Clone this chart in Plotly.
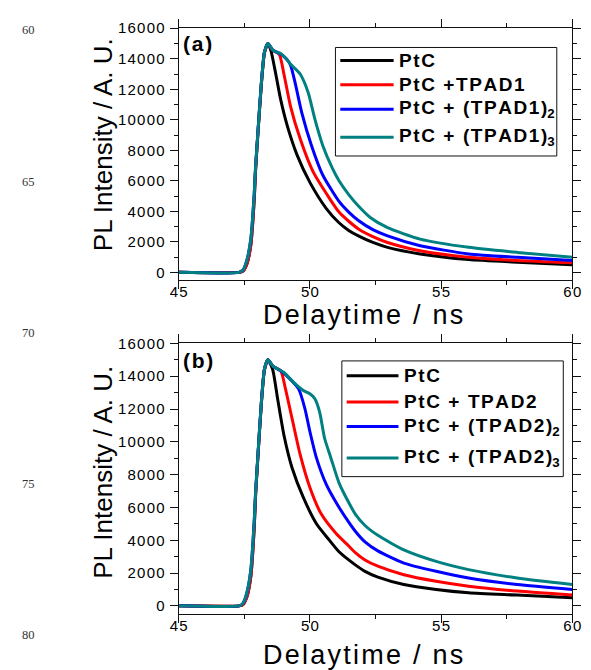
import plotly.graph_objects as go

W, H = 591, 670

# ---------------- data: panel (a) ----------------
a_black_x = [45, 47.3, 47.45, 47.6, 47.75, 47.88, 47.93, 48.02, 48.15, 48.27, 48.4, 48.52, 48.7, 48.89, 49.14, 49.51, 50.0, 50.62, 51.11, 51.48, 51.85, 52.4, 52.96, 54.2, 56.05, 57.9, 60]
a_black_y = [0, 0, 80, 550, 1800, 4800, 6700, 9100, 12300, 14400, 15000, 14500, 13000, 11300, 9600, 7700, 5900, 4200, 3250, 2750, 2390, 1960, 1640, 1210, 840, 670, 500]

a_red_x = [45, 47.3, 47.45, 47.6, 47.75, 47.88, 47.93, 48.02, 48.15, 48.27, 48.4, 48.55, 48.83, 49.01, 49.26, 49.63, 50.12, 50.74, 51.11, 51.48, 51.85, 52.4, 52.96, 54.2, 56.05, 57.9, 60]
a_red_y = [0, 0, 80, 550, 1800, 4800, 6700, 9100, 12300, 14400, 15000, 14600, 14300, 13000, 10900, 8750, 6600, 4870, 3950, 3350, 2850, 2350, 1960, 1420, 990, 780, 630]

a_blue_x = [45, 47.3, 47.45, 47.6, 47.75, 47.88, 47.93, 48.02, 48.15, 48.27, 48.4, 48.6, 48.9, 49.1, 49.26, 49.44, 49.69, 50.06, 50.49, 51.11, 51.48, 51.85, 52.4, 52.96, 54.2, 56.05, 57.9, 60]
a_blue_y = [0, 0, 150, 800, 2200, 5200, 6900, 9200, 12400, 14450, 15000, 14550, 14300, 14000, 13600, 12400, 10470, 8320, 6380, 4650, 3950, 3400, 2800, 2390, 1750, 1210, 990, 780]

a_teal_x = [45, 47.3, 47.45, 47.6, 47.75, 47.88, 47.93, 48.02, 48.15, 48.27, 48.4, 48.6, 48.9, 49.1, 49.26, 49.63, 49.94, 50.19, 50.49, 50.86, 51.11, 51.48, 51.85, 52.3, 52.96, 54.2, 56.05, 57.9, 60]
a_teal_y = [0, 0, 150, 800, 2200, 5200, 6900, 9200, 12400, 14450, 15000, 14550, 14330, 14000, 13650, 13000, 11760, 10040, 8320, 6810, 6000, 5100, 4350, 3600, 2930, 2180, 1640, 1310, 990]

# ---------------- data: panel (b) ----------------
b_black_x = [45, 47.3, 47.45, 47.6, 47.75, 47.88, 47.93, 48.02, 48.15, 48.27, 48.4, 48.58, 48.77, 49.01, 49.32, 49.75, 50.25, 50.74, 51.11, 51.48, 51.73, 52.1, 52.59, 53.58, 54.81, 56.05, 57.9, 60]
b_black_y = [0, 0, 80, 550, 1800, 4800, 6700, 9100, 12300, 14400, 15000, 14430, 12630, 10420, 8420, 6610, 5010, 4010, 3300, 2800, 2500, 2100, 1750, 1300, 1000, 800, 660, 500]

b_red_x = [45, 47.3, 47.45, 47.6, 47.75, 47.88, 47.93, 48.02, 48.15, 48.27, 48.4, 48.6, 48.89, 49.07, 49.32, 49.63, 50.0, 50.43, 51.0, 51.48, 51.73, 52.1, 52.59, 53.58, 54.81, 56.05, 57.9, 60]
b_red_y = [0, 0, 80, 550, 1800, 4800, 6700, 9100, 12300, 14400, 15000, 14600, 14330, 13230, 11430, 9220, 7220, 5610, 4410, 3650, 3250, 2800, 2420, 1900, 1500, 1200, 900, 660]

b_blue_x = [45, 47.3, 47.45, 47.6, 47.75, 47.88, 47.93, 48.02, 48.15, 48.27, 48.4, 48.6, 48.89, 49.2, 49.57, 49.81, 50.0, 50.25, 50.62, 51.0, 51.48, 51.73, 52.1, 52.59, 53.58, 54.81, 56.05, 57.9, 60]
b_blue_y = [0, 0, 150, 800, 2200, 5200, 6900, 9200, 12400, 14450, 15000, 14600, 14330, 13900, 13230, 12030, 10630, 9020, 7420, 6300, 5100, 4550, 3900, 3350, 2610, 2110, 1700, 1300, 1000]

b_teal_x = [45, 47.3, 47.45, 47.6, 47.75, 47.88, 47.93, 48.02, 48.15, 48.27, 48.4, 48.6, 49.01, 49.38, 49.75, 50.0, 50.19, 50.37, 50.56, 50.8, 51.11, 51.48, 51.73, 52.1, 52.59, 53.58, 54.81, 56.05, 57.9, 60]
b_teal_y = [0, 0, 150, 800, 2200, 5200, 6900, 9200, 12400, 14450, 15000, 14600, 14230, 13630, 13130, 12930, 12630, 11830, 10220, 9020, 7500, 6300, 5600, 4900, 4300, 3410, 2710, 2210, 1700, 1300]

colors = ["#000000", "#ff0000", "#0000ff", "#008080"]
names_a = ["PtC", "PtC +TPAD1", "PtC + (TPAD1)", "PtC + (TPAD1)"]
subs_a = ["", "", "2", "3"]
names_b = ["PtC", "PtC + TPAD2", "PtC + (TPAD2)", "PtC + (TPAD2)"]
subs_b = ["", "", "2", "3"]

x_ticks = [45, 50, 55, 60]
y_ticks = [0, 2000, 4000, 6000, 8000, 10000, 12000, 14000, 16000]
line_numbers = ["60", "65", "70", "75", "80"]

FONT = "Liberation Sans, Arial, sans-serif"
HS = "\u200a"


def spaced(s):
    return HS.join(list(s))


def px(x):
    return x / W


def py(y):
    return 1 - y / H


fig = go.Figure()

series_a = [(a_black_x, a_black_y), (a_red_x, a_red_y), (a_blue_x, a_blue_y), (a_teal_x, a_teal_y)]
series_b = [(b_black_x, b_black_y), (b_red_x, b_red_y), (b_blue_x, b_blue_y), (b_teal_x, b_teal_y)]

for i, (xs, ys) in enumerate(series_a):
    fig.add_trace(go.Scatter(x=xs, y=ys, mode="lines", name=names_a[i] + subs_a[i],
                             line=dict(color=colors[i], width=3, shape="spline", smoothing=0.6),
                             xaxis="x", yaxis="y", showlegend=False))
for i, (xs, ys) in enumerate(series_b):
    fig.add_trace(go.Scatter(x=xs, y=ys, mode="lines", name=names_b[i] + subs_b[i],
                             line=dict(color=colors[i], width=3, shape="spline", smoothing=0.6),
                             xaxis="x2", yaxis="y2", showlegend=False))

xdom = [px(175), px(581)]
axis_common = dict(showline=True, linecolor="#111", linewidth=1, mirror="ticks",
                   ticks="outside", ticklen=8, tickwidth=1, tickcolor="#111",
                   showgrid=False, zeroline=False,
                   tickfont=dict(family=FONT, size=15, color="#000"))
xcommon = dict(axis_common, range=[45, 60], tickvals=x_ticks,
               ticktext=[spaced(str(v)) for v in x_ticks], ticklabelstandoff=-10,
               minor=dict(dtick=2.5, tick0=45, ticks="outside", ticklen=4, tickcolor="#111"))
ycommon = dict(axis_common, tickvals=y_ticks,
               ticktext=[spaced(str(v)) for v in y_ticks], ticklabelstandoff=2,
               minor=dict(dtick=1000, tick0=0, ticks="outside", ticklen=4, tickcolor="#111"))

fig.update_layout(
    width=W, height=H,
    margin=dict(l=0, r=0, t=0, b=0),
    paper_bgcolor="white", plot_bgcolor="white",
    xaxis=dict(xcommon, domain=xdom, anchor="y"),
    yaxis=dict(ycommon, domain=[py(275), py(19.5)], range=[-520, 16000], anchor="x"),
    xaxis2=dict(xcommon, domain=xdom, anchor="y2"),
    yaxis2=dict(ycommon, domain=[py(613.3), py(339)], range=[-500, 16000], anchor="x2"),
)

ann = []
shapes = []

# axis titles
for cy in [138, 470]:
    ann.append(dict(x=px(97), y=py(cy), xref="paper", yref="paper", text="PL Intensity / A. U.",
                    textangle=-90, showarrow=False, font=dict(family=FONT, size=26, color="#000"),
                    xanchor="center", yanchor="middle"))
for cy in [310, 655]:
    ann.append(dict(x=px(365), y=py(cy), xref="paper", yref="paper", text=spaced("Delaytime / ns"),
                    showarrow=False, font=dict(family=FONT, size=27, color="#000"),
                    xanchor="center", yanchor="middle"))

# panel labels
for lab, cy in [("(a)", 35), ("(b)", 356)]:
    ann.append(dict(x=px(177), y=py(cy), xref="paper", yref="paper", text="<b>" + spaced(lab) + "</b>",
                    showarrow=False, font=dict(family=FONT, size=21, color="#000"),
                    xanchor="left", yanchor="middle"))

# line numbers
for lab, cy in zip(line_numbers, [21.7, 175, 328, 481.7, 635]):
    ann.append(dict(x=px(20.5), y=py(cy), xref="paper", yref="paper", text=lab,
                    showarrow=False, font=dict(family="Liberation Serif, Times New Roman, serif", size=12.5, color="#333"),
                    xanchor="center", yanchor="middle"))


def legend(box, line_x, text_x, ys, names, subs):
    x0, y0, x1, y1 = box
    shapes.append(dict(type="rect", xref="paper", yref="paper", x0=px(x0), x1=px(x1), y0=py(y1), y1=py(y0),
                       line=dict(color="#111", width=1), fillcolor="white", layer="above"))
    for i, yy in enumerate(ys):
        shapes.append(dict(type="line", xref="paper", yref="paper", x0=px(line_x[0]), x1=px(line_x[1]),
                           y0=py(yy), y1=py(yy), line=dict(color=colors[i], width=3), layer="above"))
        t = "<b>" + spaced(names[i]) + "</b>"
        if subs[i]:
            t += "<sub><b>" + subs[i] + "</b></sub>"
        ann.append(dict(x=px(text_x), y=py(yy), xref="paper", yref="paper", text=t, showarrow=False,
                        font=dict(family=FONT, size=19, color="#000"), xanchor="left", yanchor="middle"))


legend((336.7, 39, 565, 149), (341.7, 396.7), 400, [52.3, 76.7, 101.7, 130], names_a, subs_a)
legend((343.3, 356.7, 571.7, 474), (348.3, 401.7), 405.5, [371.7, 398.3, 423.3, 455], names_b, subs_b)

fig.update_layout(annotations=ann, shapes=shapes)
fig.write_html("out.html")
